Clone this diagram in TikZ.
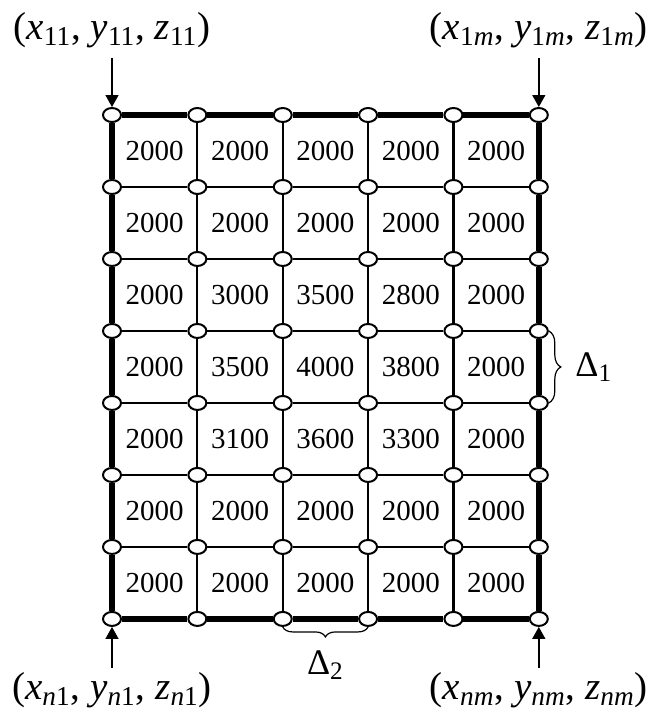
\documentclass[tikz,border=0pt]{standalone}
\usepackage{fontspec}
\setmainfont{Liberation Serif}
\usetikzlibrary{positioning,shapes.geometric,arrows.meta,decorations.pathreplacing}

\begin{document}
\begin{tikzpicture}[
  vertex/.style={ellipse, draw, line width=1pt, fill=white, minimum width=9pt, minimum height=7pt, inner sep=0pt},
  cellval/.style={inner sep=0pt, font=\fontsize{14.5}{17}\selectfont},
  inner line/.style={line width=1.1pt},
  outer line/.style={line width=2.7pt},
  cornerlabel/.style={inner sep=0pt, font=\fontsize{19.5}{22}\selectfont},
  pointer/.style={line width=0.7pt, -{Triangle[length=6pt,width=6.5pt]}},
  gapbrace/.style={decorate, decoration={brace, amplitude=#1}, line width=0.6pt},
  gapbrace/.default=5pt,
  gaplabel/.style={inner sep=0pt, font=\fontsize{18}{20}\selectfont}
]

% margins of the picture
\useasboundingbox (-1.968,2.021) rectangle (9.525,-10.508);

% grid vertices (row r, column c)
\foreach \r in {0,...,7}
  \foreach \c in {0,...,5}
    \node[vertex] (v-\r-\c) at (1.5*\c,-1.265*\r) {};

% inner grid lines
\foreach \r in {1,...,6}
  \foreach \c in {0,...,4} {
    \pgfmathtruncatemacro\nxt{\c+1}
    \draw[inner line] (v-\r-\c) -- (v-\r-\nxt);
  }
\foreach \c in {1,...,4}
  \foreach \r in {0,...,6} {
    \pgfmathtruncatemacro\nxt{\r+1}
    \draw[inner line] (v-\r-\c) -- (v-\nxt-\c);
  }

% outer frame (thick)
\foreach \r in {0,7}
  \foreach \c in {0,...,4} {
    \pgfmathtruncatemacro\nxt{\c+1}
    \draw[outer line] (v-\r-\c) -- (v-\r-\nxt);
  }
\foreach \c in {0,5}
  \foreach \r in {0,...,6} {
    \pgfmathtruncatemacro\nxt{\r+1}
    \draw[outer line] (v-\r-\c) -- (v-\nxt-\c);
  }

% cell values
\foreach \vals [count=\r] in {{2000,2000,2000,2000,2000},
                              {2000,2000,2000,2000,2000},
                              {2000,3000,3500,2800,2000},
                              {2000,3500,4000,3800,2000},
                              {2000,3100,3600,3300,2000},
                              {2000,2000,2000,2000,2000},
                              {2000,2000,2000,2000,2000}}
  \foreach \val [count=\c] in \vals
    \node[cellval] (c-\r-\c) at (1.5*\c-0.75,-1.265*\r+0.6325) {\val};

% corner coordinates
\node[cornerlabel] (p-11) at (0,1.494)
  {(\textit{x}\textsubscript{11}, \textit{y}\textsubscript{11}, \textit{z}\textsubscript{11})};
\node[cornerlabel] (p-1m) at (7.5,1.494)
  {(\textit{x}\textsubscript{1\textit{m}}, \textit{y}\textsubscript{1\textit{m}}, \textit{z}\textsubscript{1\textit{m}})};
\node[cornerlabel] (p-n1) at (0,-10.1)
  {(\textit{x}\textsubscript{\textit{n}1}, \textit{y}\textsubscript{\textit{n}1}, \textit{z}\textsubscript{\textit{n}1})};
\node[cornerlabel] (p-nm) at (7.5,-10.1)
  {(\textit{x}\textsubscript{\textit{nm}}, \textit{y}\textsubscript{\textit{nm}}, \textit{z}\textsubscript{\textit{nm}})};

% pointers to the corners
\coordinate (a-11) at (0,1.0);
\coordinate (a-1m) at (7.5,1.0);
\coordinate (a-n1) at (0,-9.72);
\coordinate (a-nm) at (7.5,-9.72);
\draw[pointer] (a-11) -- (v-0-0);
\draw[pointer] (a-1m) -- (v-0-5);
\draw[pointer] (a-n1) -- (v-7-0);
\draw[pointer] (a-nm) -- (v-7-5);

% step sizes
\draw[gapbrace=6pt] (v-3-5.east) -- (v-4-5.east)
  node[gaplabel, midway, anchor=west, xshift=13pt] (d-1) {Δ\textsubscript{1}};
\draw[gapbrace=5pt] (v-7-3.south) -- (v-7-2.south)
  node[gaplabel, midway, anchor=north, yshift=-11.5pt] (d-2) {Δ\textsubscript{2}};

\end{tikzpicture}
\end{document}
